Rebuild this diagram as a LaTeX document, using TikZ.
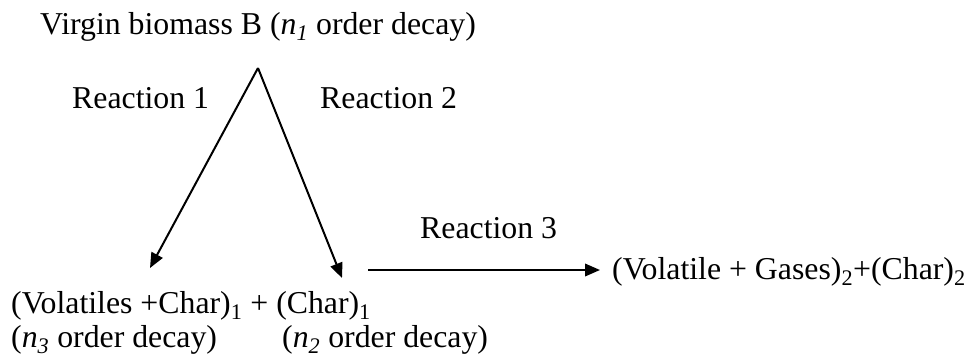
\documentclass[tikz,border=0pt]{standalone}
\usepackage{fontspec}
\setmainfont{Liberation Serif}
\usetikzlibrary{arrows.meta}
\begin{document}
\begin{tikzpicture}[x=1pt,y=-1pt,
  lbl/.style={anchor=base west,inner sep=0pt,font=\fontsize{31.8}{36}\selectfont},
  conn/.style={line width=2pt,-{Triangle[length=15pt,width=12.5pt]}}]
\useasboundingbox (0,0) rectangle (974,362);
\node[lbl] (top) at (40,34) {Virgin biomass B (\textit{n\textsubscript{1}} order decay)};
\node[lbl] (r1) at (72,108) {Reaction 1};
\node[lbl] (r2) at (320,108) {Reaction 2};
\node[lbl] (r3) at (420,238) {Reaction 3};
\node[lbl] (prod1) at (11,313) {(Volatiles +Char)\textsubscript{1} + (Char)\textsubscript{1}};
\node[lbl] (ord3) at (11,347) {(\textit{n\textsubscript{3}} order decay)};
\node[lbl] (ord2) at (282,347) {(\textit{n\textsubscript{2}} order decay)};
\node[lbl] (prod2) at (612,279) {(Volatile + Gases)\textsubscript{2}+(Char)\textsubscript{2}};
\coordinate (apex) at (258,68);
\coordinate (tipL) at (150,268);
\coordinate (tipR) at (342,278);
\coordinate (h0) at (368,270);
\coordinate (h1) at (600,270);
\draw[conn] (apex) -- (tipL);
\draw[conn] (apex) -- (tipR);
\draw[conn] (h0) -- (h1);
\end{tikzpicture}
\end{document}
